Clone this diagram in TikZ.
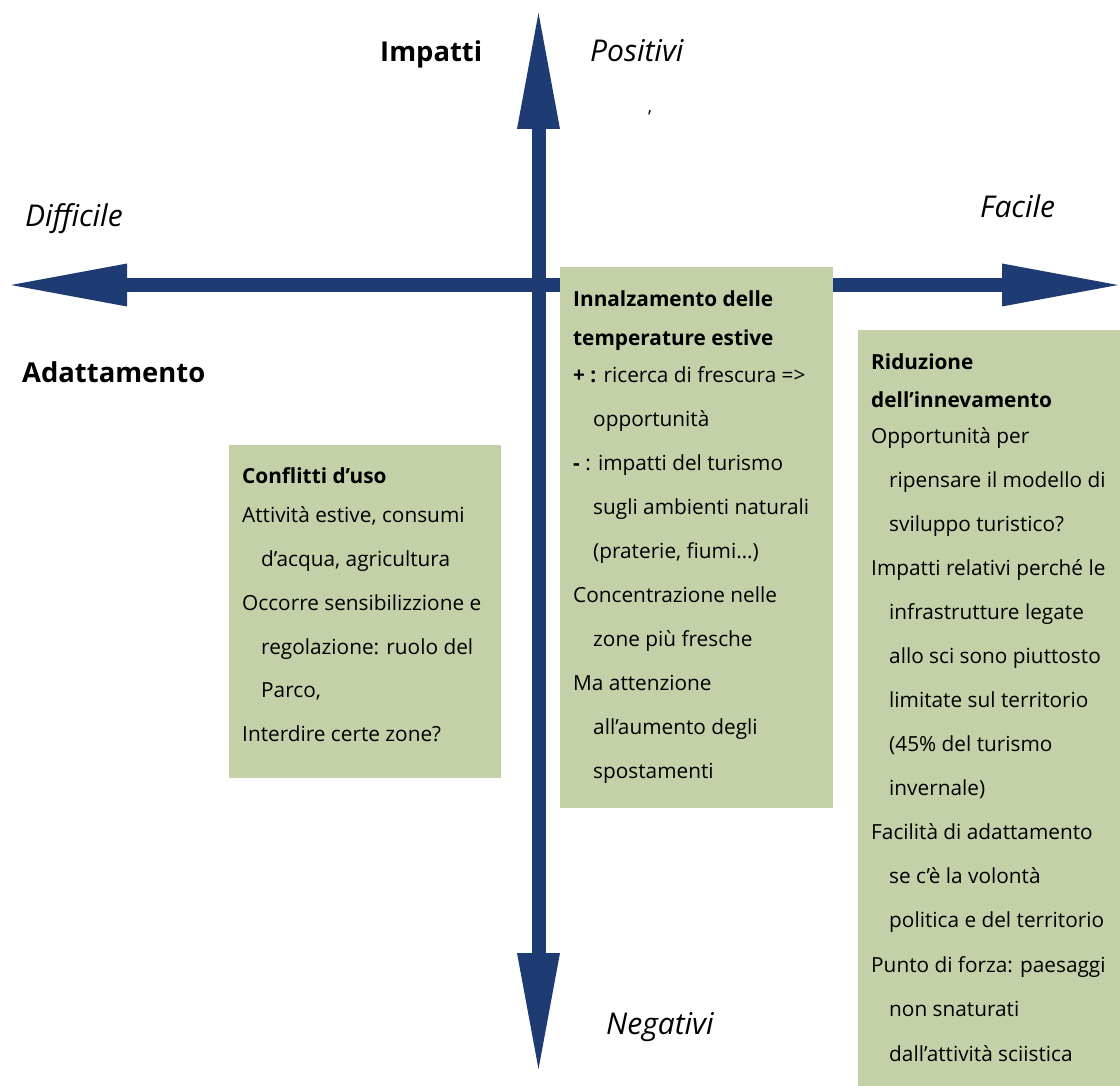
\documentclass[tikz,border=0pt]{standalone}
\usepackage{fontspec}
\setmainfont{Open Sans}
\usetikzlibrary{arrows.meta}
\definecolor{navy}{RGB}{31,59,115}
\definecolor{sage}{RGB}{196,208,168}
\begin{document}
\begin{tikzpicture}[x=1pt,y=-1pt,
  axis/.style={draw=navy, line width=14pt,
    {Triangle[length=116pt,width=43pt,line width=0pt]}-{Triangle[length=116pt,width=43pt,line width=0pt]}},
  box/.style={fill=sage, draw=none, inner sep=0pt, anchor=north west},
  line/.style={anchor=base west, inner sep=0pt, font=\fontsize{20.8}{24}\selectfont},
  biglabel/.style={anchor=base west, inner sep=0pt, font=\fontsize{27.4}{32}\selectfont\bfseries},
  itlabel/.style={anchor=base west, inner sep=0pt, font=\fontsize{30}{34}\selectfont\itshape}]
\useasboundingbox (0,0) rectangle (1120,1086);

% axes
\coordinate (top) at (538.5,13);
\coordinate (bottom) at (538.5,1069);
\coordinate (left) at (11,285);
\coordinate (right) at (1118,285);
\draw[axis] (top) -- (bottom);
\draw[axis] (left) -- (right);

% axis labels
\node[biglabel] (impatti) at (380,62) {Impatti};
\node[itlabel] (positivi) at (590,62) {Positivi};
\node[anchor=base west, inner sep=0pt, font=\fontsize{18}{20}\selectfont] (tick) at (648,124) {’};
\node[itlabel] (difficile) at (25,227) {Difficile};
\node[itlabel] (facile) at (980,218) {Facile};
\node[biglabel] (adatt) at (22,382) {Adattamento};
\node[itlabel] (negativi) at (606,1034) {Negativi};

% boxes
\node[box, minimum width=272pt, minimum height=333pt] (b1) at (229,445) {};
\node[box, minimum width=273pt, minimum height=541pt] (b2) at (560,267) {};
\node[box, minimum width=262pt, minimum height=756pt] (b3) at (858,330) {};

% box 1 text
\foreach \dx/\y/\txt [count=\i] in {
  0/483/{\textbf{Conflitti d’uso}},
  0/522/{Attività estive, consumi},
  19/566/{d’acqua, agricultura},
  0/610/{Occorre sensibilizzione e},
  19/654/{regolazione: ruolo del},
  19/697/{Parco,},
  0/741/{Interdire certe zone?}}
  \node[line] (ta\i) at (242+\dx,\y) {\txt};

% box 2 text
\foreach \dx/\y/\txt [count=\i] in {
  0/307/{\textbf{Innalzamento delle}},
  0/345/{\textbf{temperature estive}},
  0/382/{\textbf{+ :} ricerca di frescura =>},
  20/426/{opportunità},
  0/470/{\textbf{-} : impatti del turismo},
  20/514/{sugli ambienti naturali},
  20/558/{(praterie, fiumi…)},
  0/602/{Concentrazione nelle},
  20/646/{zone più fresche},
  0/690/{Ma attenzione},
  20/734/{all’aumento degli},
  20/778/{spostamenti}}
  \node[line] (tb\i) at (573+\dx,\y) {\txt};

% box 3 text
\foreach \dx/\y/\txt [count=\i] in {
  0/370/{\textbf{Riduzione}},
  0/407/{\textbf{dell’innevamento}},
  0/443/{Opportunità per},
  18/487/{ripensare il modello di},
  18/531/{sviluppo turistico?},
  0/575/{Impatti relativi perché le},
  18/619/{infrastrutture legate},
  18/663/{allo sci sono piuttosto},
  18/707/{limitate sul territorio},
  18/751/{(45\% del turismo},
  18/795/{invernale)},
  0/839/{Facilità di adattamento},
  18/883/{se c’è la volontà},
  18/927/{politica e del territorio},
  0/972/{Punto di forza: paesaggi},
  18/1016/{non snaturati},
  18/1061/{dall’attività sciistica}}
  \node[line] (tc\i) at (871+\dx,\y) {\txt};
\end{tikzpicture}
\end{document}
